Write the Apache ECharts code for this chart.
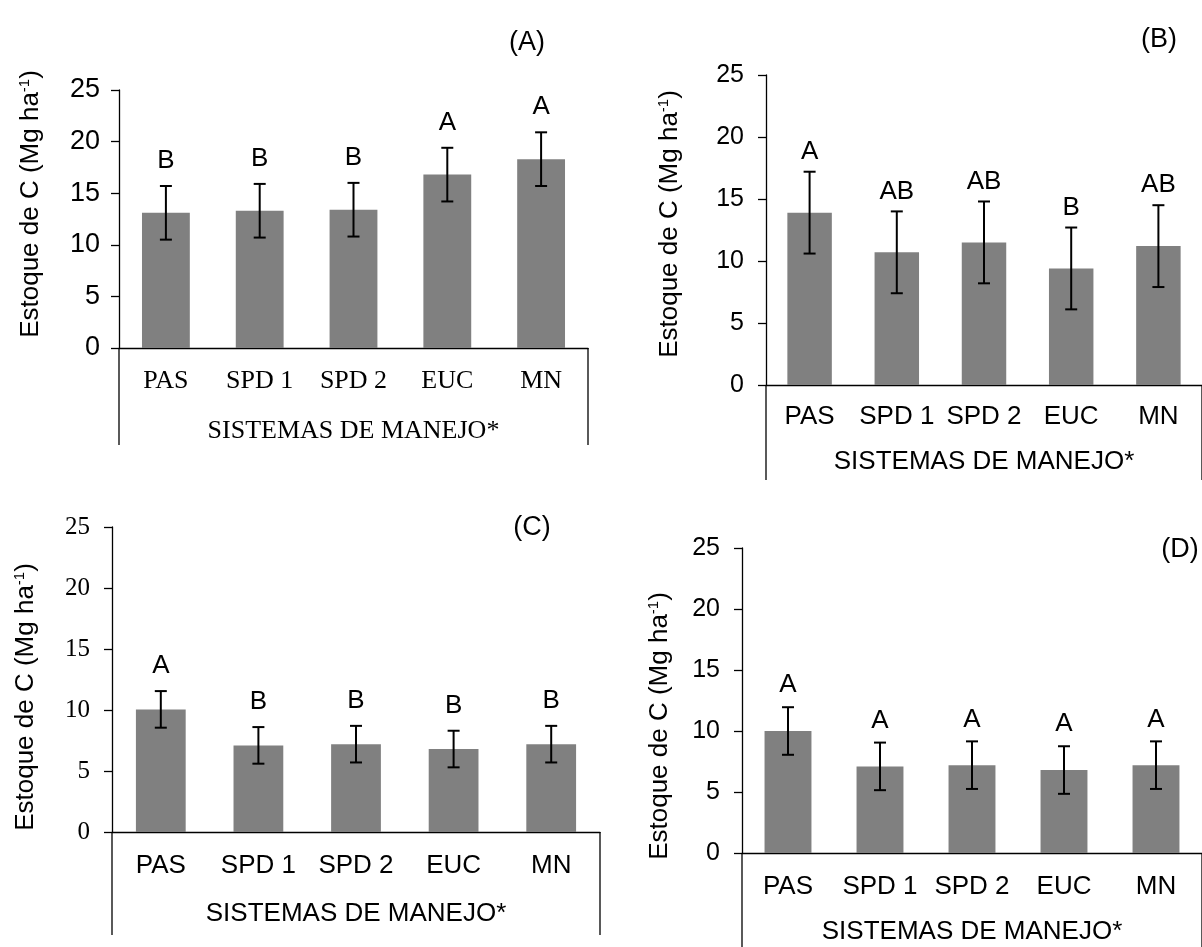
<!DOCTYPE html>
<html>
<head>
<meta charset="utf-8">
<script src="https://cdn.jsdelivr.net/npm/echarts@6/dist/echarts.min.js"></script>
<style>
html,body{margin:0;padding:0;background:#fff;}
#c{width:1202px;height:947px;}
</style>
</head>
<body>
<div id="c"></div>
<script>
// ---------- data ----------
const categories = ['PAS', 'SPD 1', 'SPD 2', 'EUC', 'MN'];
const meansA = [13.1, 13.3, 13.4, 16.8, 18.3];
const errA = [2.6, 2.6, 2.6, 2.6, 2.6];
const lettersA = ['B', 'B', 'B', 'A', 'A'];
const meansB = [13.9, 10.7, 11.5, 9.4, 11.2];
const errB = [3.3, 3.3, 3.3, 3.3, 3.3];
const lettersB = ['A', 'AB', 'AB', 'B', 'AB'];
const meansC = [10.05, 7.1, 7.2, 6.8, 7.2];
const errC = [1.5, 1.5, 1.5, 1.5, 1.5];
const lettersC = ['A', 'B', 'B', 'B', 'B'];
const meansD = [10.0, 7.1, 7.2, 6.8, 7.2];
const errD = [1.95, 1.95, 1.95, 1.95, 1.95];
const lettersD = ['A', 'A', 'A', 'A', 'A'];
const yMin = 0, yMax = 25, yStep = 5;
const xTitle = 'SISTEMAS DE MANEJO*';
const panelTags = ['(A)', '(B)', '(C)', '(D)'];

// ---------- layout / style ----------
const SANS = "'Liberation Sans', Arial, sans-serif";
const SERIF = "'Liberation Serif', 'Times New Roman', serif";
const panels = [
  {means: meansA, err: errA, letters: lettersA, grid: {left: 119, top: 90, width: 469, height: 258},
   tickFont: SANS, tickSize: 27, tickMargin: 19, catFont: SERIF, xNameFont: SERIF, boxExt: 97, gap: 12, catMargin: 20, xNameGap: 70,
   yTitle: [31, 204], tag: [527, 43]},
  {means: meansB, err: errB, letters: lettersB, grid: {left: 766, top: 75, width: 445, height: 310},
   tickFont: SANS, tickSize: 25, tickMargin: 22, catFont: SANS, xNameFont: SANS, boxExt: 95, gap: 7, catMargin: 19, xNameGap: 64,
   yTitle: [670, 224], tag: [1159, 40]},
  {means: meansC, err: errC, letters: lettersC, grid: {left: 112, top: 527, width: 488, height: 305},
   tickFont: SERIF, tickSize: 25, tickMargin: 22, catFont: SANS, xNameFont: SANS, boxExt: 103, gap: 12, catMargin: 21, xNameGap: 69,
   yTitle: [26, 697], tag: [532, 528]},
  {means: meansD, err: errD, letters: lettersD, grid: {left: 742, top: 548, width: 465, height: 305},
   tickFont: SANS, tickSize: 25, tickMargin: 22, catFont: SANS, xNameFont: SANS, boxExt: 100, gap: 9, catMargin: 21, xNameGap: 66,
   yTitle: [660, 726], tag: [1180, 550]}
];

const grids = [], xAxes = [], yAxes = [], series = [], graphics = [];
panels.forEach((p, k) => {
  grids.push(Object.assign({containLabel: false}, p.grid));
  xAxes.push({
    type: 'category', gridIndex: k, data: categories,
    axisLine: {show: true, lineStyle: {color: '#000', width: 1.3}},
    axisTick: {show: false},
    axisLabel: {color: '#000', fontFamily: p.catFont, fontSize: 26, margin: p.catMargin, interval: 0},
    name: xTitle, nameLocation: 'middle', nameGap: p.xNameGap,
    nameTextStyle: {color: '#000', fontFamily: p.xNameFont, fontSize: 26}
  });
  yAxes.push({
    type: 'value', gridIndex: k, min: yMin, max: yMax, interval: yStep,
    axisLine: {show: true, lineStyle: {color: '#000', width: 1.3}},
    axisTick: {show: true, inside: false, length: 8, lineStyle: {color: '#000', width: 1.3}},
    axisLabel: {color: '#000', fontFamily: p.tickFont, fontSize: p.tickSize, margin: p.tickMargin},
    splitLine: {show: false}
  });
  series.push({
    type: 'bar', xAxisIndex: k, yAxisIndex: k, data: p.means, z: 2,
    barWidth: '51%', itemStyle: {color: '#808080'}, silent: true, animation: false
  });
  const letters = p.letters, gap = p.gap, ext = p.boxExt;
  series.push({
    type: 'custom', xAxisIndex: k, yAxisIndex: k, animation: false, silent: true, clip: false, z: 10,
    data: p.means.map((m, i) => [i, m, p.err[i]]),
    encode: {x: 0, y: 1},
    renderItem: function (params, api) {
      const i = api.value(0), m = api.value(1), e = api.value(2);
      const top = api.coord([i, m + e]);
      const bot = api.coord([i, m - e]);
      const cw = 6;
      const ls = {stroke: '#000', lineWidth: 2};
      const children = [
        {type: 'line', shape: {x1: top[0], y1: top[1], x2: bot[0], y2: bot[1]}, style: ls},
        {type: 'line', shape: {x1: top[0] - cw, y1: top[1], x2: top[0] + cw, y2: top[1]}, style: ls},
        {type: 'line', shape: {x1: bot[0] - cw, y1: bot[1], x2: bot[0] + cw, y2: bot[1]}, style: ls},
        {type: 'text', x: top[0], y: top[1] - gap,
         style: {text: letters[params.dataIndex], fill: '#000', font: '26px ' + SANS,
                 textAlign: 'center', textVerticalAlign: 'bottom'}}
      ];
      if (params.dataIndex === 0) {
        const cs = params.coordSys;
        const yb = cs.y + cs.height;
        const bs = {stroke: '#000', lineWidth: 1.3};
        children.push({type: 'line', shape: {x1: cs.x, y1: yb, x2: cs.x, y2: yb + ext}, style: bs});
        children.push({type: 'line', shape: {x1: cs.x + cs.width, y1: yb, x2: cs.x + cs.width, y2: yb + ext}, style: bs});
      }
      return {type: 'group', children: children};
    }
  });
  graphics.push({
    type: 'text', x: p.yTitle[0], y: p.yTitle[1], rotation: Math.PI / 2,
    style: {
      text: '{a|Estoque de C (Mg ha}{s|-1}{a|)}',
      textAlign: 'center', textVerticalAlign: 'middle',
      rich: {
        a: {fontFamily: SANS, fontSize: 26, fill: '#000', color: '#000'},
        s: {fontFamily: SANS, fontSize: 15, fill: '#000', color: '#000', padding: [0, 0, 12, 0]}
      }
    }
  });
  graphics.push({
    type: 'text', x: p.tag[0], y: p.tag[1],
    style: {text: panelTags[k], font: '27px ' + SANS, fill: '#000', textAlign: 'center', textVerticalAlign: 'middle'}
  });
});

const chart = echarts.init(document.getElementById('c'), null, {renderer: 'canvas'});
chart.setOption({
  animation: false,
  backgroundColor: '#fff',
  grid: grids, xAxis: xAxes, yAxis: yAxes, series: series, graphic: graphics
});
</script>
</body>
</html>
